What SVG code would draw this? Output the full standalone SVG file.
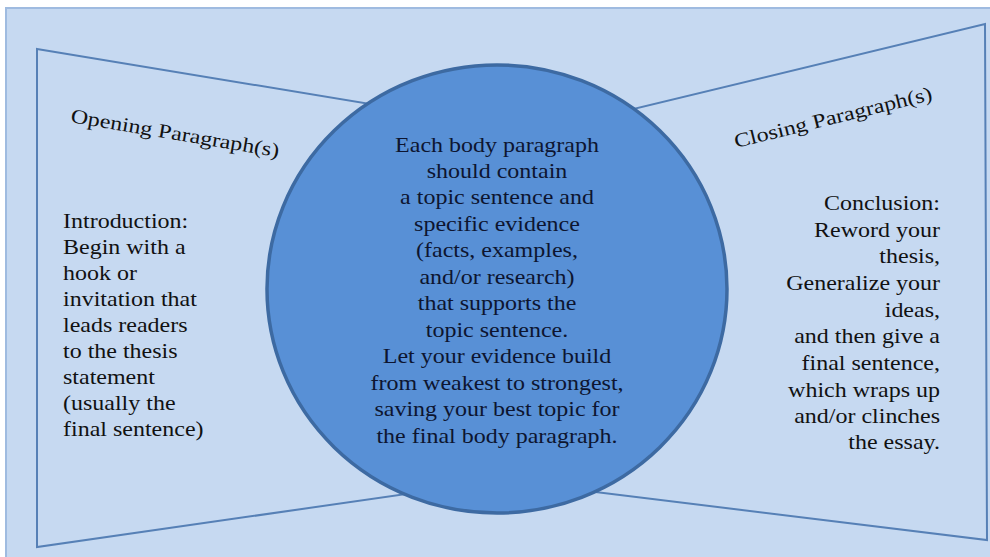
<svg xmlns="http://www.w3.org/2000/svg" width="990" height="557" viewBox="0 0 990 557">
<style>
.bg{fill:#c6d9f1;stroke:#9fbbe0;stroke-width:2}
.trap{fill:#c6d9f1;stroke:#5680b6;stroke-width:2}
.circ{fill:#5890d6;stroke:#3d6aa2;stroke-width:3.5}
.t{font-size:20px;fill:#111}
.c{fill:#0d1530;text-anchor:middle}
.r{text-anchor:end}
</style>
<rect class="bg" x="6" y="8" width="992" height="560"/>
<g id="connectors"></g>
<g id="opening" font-family="Liberation Serif, Times New Roman, serif">
<polygon class="trap" points="37,49 497,125 497,481 37,547"/>
<text class="t" transform="translate(70,122) rotate(9.6) scale(1.2,1)">Opening Paragraph(s)</text>
<g class="t" transform="translate(63,0) scale(1.2,1)">
<text x="0" y="228">Introduction:</text>
<text x="0" y="254">Begin with a</text>
<text x="0" y="280">hook or</text>
<text x="0" y="306">invitation that</text>
<text x="0" y="332">leads readers</text>
<text x="0" y="358">to the thesis</text>
<text x="0" y="384">statement</text>
<text x="0" y="410">(usually the</text>
<text x="0" y="436">final sentence)</text>
</g>
</g>
<g id="closing" font-family="Liberation Serif, Times New Roman, serif">
<polygon class="trap" points="497,142 985,24 987,540 497,480"/>
<text class="t" transform="translate(736,148) rotate(-13.8) scale(1.2,1)">Closing Paragraph(s)</text>
<g class="t r" transform="translate(940,0) scale(1.2,1)">
<text x="0" y="210">Conclusion:</text>
<text x="0" y="237">Reword your</text>
<text x="0" y="263">thesis,</text>
<text x="0" y="290">Generalize your</text>
<text x="0" y="317">ideas,</text>
<text x="0" y="343">and then give a</text>
<text x="0" y="370">final sentence,</text>
<text x="0" y="397">which wraps up</text>
<text x="0" y="423">and/or clinches</text>
<text x="0" y="449">the essay.</text>
</g>
</g>
<g id="body" font-family="Liberation Serif, Times New Roman, serif">
<ellipse class="circ" cx="497" cy="289" rx="230" ry="224"/>
<g class="t c" transform="translate(497,0) scale(1.2,1)">
<text x="0" y="152">Each body paragraph</text>
<text x="0" y="178">should contain</text>
<text x="0" y="204.5">a topic sentence and</text>
<text x="0" y="231">specific evidence</text>
<text x="0" y="257.5">(facts, examples,</text>
<text x="0" y="284">and/or research)</text>
<text x="0" y="310.5">that supports the</text>
<text x="0" y="337">topic sentence.</text>
<text x="0" y="363.5">Let your evidence build</text>
<text x="0" y="390">from weakest to strongest,</text>
<text x="0" y="416.5">saving your best topic for</text>
<text x="0" y="443">the final body paragraph.</text>
</g>
</g>
</svg>
